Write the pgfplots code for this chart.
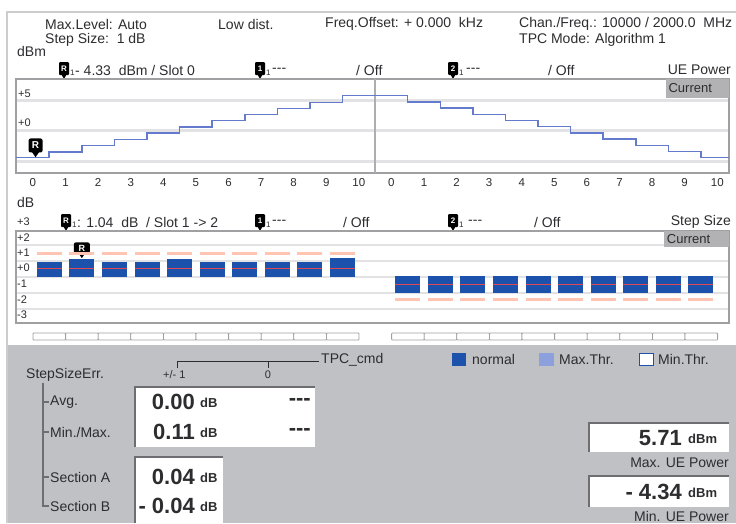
\documentclass[border=0pt]{standalone}
\usepackage{pgfplots}
\pgfplotsset{compat=1.18}
\usepackage{pgfplotstable}
\usepackage{fontspec}
\setmainfont{Liberation Sans}

\definecolor{stepline}{RGB}{100,122,205}
\definecolor{barblue}{RGB}{28,82,172}
\definecolor{redline}{RGB}{222,72,82}
\definecolor{pinkc}{RGB}{255,196,178}
\definecolor{gridgray}{RGB}{226,226,229}
\definecolor{framegray}{RGB}{160,160,163}
\definecolor{panelgray}{RGB}{192,193,197}
\definecolor{curgray}{RGB}{178,178,181}
\definecolor{outergray}{RGB}{205,205,208}
\definecolor{txt}{RGB}{45,45,48}
\definecolor{maxthr}{RGB}{140,160,222}
\definecolor{boxedge}{RGB}{110,110,114}

\newcommand{\fa}{\fontsize{14}{14}\selectfont}
\newcommand{\fb}{\fontsize{14}{14}\selectfont}
\newcommand{\fs}{\fontsize{11}{11}\selectfont}
\newcommand{\ft}{\fontsize{11.5}{11.5}\selectfont}
\newcommand{\fc}{\fontsize{13}{13}\selectfont}
\newcommand{\fbig}{\fontsize{22}{22}\selectfont\bfseries}
\newcommand{\funit}{\fontsize{13}{13}\selectfont\bfseries}
\newcommand{\dashes}{{-}{-}{-}}

% header marker icon: x, y, letter
\newcommand{\icon}[3]{%
  \fill[black,rounded corners=1pt] (#1-5,#2-8) rectangle (#1+5,#2+5);
  \fill[black] (#1-2.5,#2+4.5) -- (#1+2.5,#2+4.5) -- (#1,#2+9) -- cycle;
  \node[text=white,font=\fontsize{8}{8}\selectfont\bfseries] at (#1,#2-1.5) {#3};
  \node[font=\fontsize{8}{8}\selectfont,anchor=west] at (#1+6,#2+3) {1};}

\pgfplotstableread{
x y
-0.52 -4.34
0 -4.34
1 -3.38
2 -2.34
3 -1.37
4 -0.37
5 0.67
6 1.65
7 2.65
8 3.64
9 4.62
10 5.71
11 5.71
12 4.70
13 3.69
14 2.69
15 1.68
16 0.68
17 -0.33
18 -1.33
19 -2.34
20 -3.34
21 -4.34
21.36 -4.34
}\powertab

\pgfplotstableread{
x red up dn pink
0.5 0.05 0.40 0.55 1.0
1.5 0.05 0.60 0.55 1.0
2.5 0.05 0.40 0.55 1.0
3.5 0.05 0.40 0.55 1.0
4.5 0.05 0.60 0.55 1.0
5.5 0.05 0.40 0.55 1.0
6.5 0.05 0.40 0.55 1.0
7.5 0.05 0.40 0.55 1.0
8.5 0.05 0.40 0.55 1.0
9.5 0.05 0.62 0.55 1.0
11.5 -0.96 0.54 0.52 -1.9
12.5 -0.96 0.54 0.52 -1.9
13.5 -0.96 0.54 0.52 -1.9
14.5 -0.96 0.54 0.52 -1.9
15.5 -0.96 0.54 0.52 -1.9
16.5 -0.96 0.54 0.52 -1.9
17.5 -0.96 0.54 0.52 -1.9
18.5 -0.96 0.54 0.52 -1.9
19.5 -0.96 0.54 0.52 -1.9
20.5 -0.96 0.54 0.52 -1.9
}\steptab

\begin{document}
\begin{tikzpicture}
\useasboundingbox (0pt,0pt) rectangle (736pt,-523pt);
\begin{scope}[x=1pt,y=-1pt,every node/.style={text=txt,inner sep=0pt}]
  \fill[white] (0,0) rectangle (736,523);
  \fill[panelgray] (7,345) rectangle (736,523);
  \draw[outergray,line width=1.5pt] (7,523) -- (7,12) -- (736,12);
  % header info
  \node[anchor=west,font=\fa] at (45,24) {Max.Level: Auto};
  \node[anchor=west,font=\fa] at (45,40) {Step Size:\ \ 1 dB};
  \node[anchor=west,font=\fa] at (218,24) {Low dist.};
  \node[anchor=west,font=\fa] at (325,24) {Freq.Offset: + 0.000\ \ kHz};
  \node[anchor=west,font=\fa] at (519,24) {Chan./Freq.: 10000 / 2000.0\ \ MHz};
  \node[anchor=west,font=\fa] at (519,40) {TPC Mode: Algorithm 1};
  \node[anchor=west,font=\fa] at (17,51) {dBm};
  % marker line of upper plot
  \icon{64}{70}{R}
  \node[anchor=west,font=\fa] at (75,70) {- 4.33\ \ dBm / Slot 0};
  \icon{260}{70}{1}
  \node[anchor=west,font=\fa] at (272,70) {\dashes};
  \node[anchor=west,font=\fa] at (356,70) {/ Off};
  \icon{453}{70}{2}
  \node[anchor=west,font=\fa] at (466,70) {\dashes};
  \node[anchor=west,font=\fa] at (548,70) {/ Off};
  \node[anchor=east,font=\fa] at (731,70) {UE Power};
  % upper plot side labels
  \node[anchor=west,font=\fs] at (18,94) {+5};
  \node[anchor=west,font=\fs] at (18,123) {+0};
  % lower plot header
  \node[anchor=west,font=\fa] at (17,202) {dB};
  \node[anchor=west,font=\fs] at (17,222) {+3};
  \icon{66}{222}{R}
  \node[anchor=west,font=\fa] at (77,222) {: 1.04\ \ dB\ \ / Slot 1 -> 2};
  \icon{260}{222}{1}
  \node[anchor=west,font=\fa] at (272,222) {\dashes};
  \node[anchor=west,font=\fa] at (343,222) {/ Off};
  \icon{453}{222}{2}
  \node[anchor=west,font=\fa] at (468,222) {\dashes};
  \node[anchor=west,font=\fa] at (534,222) {/ Off};
  \node[anchor=east,font=\fa] at (731,222) {Step Size};
  \foreach \v/\yy in {+2/238,+1/253,+0/268,-1/284,-2/300,-3/315}
    \node[anchor=west,font=\fs] at (17,\yy) {\v};
  % slot cells under the lower plot
  \foreach \s in {0,...,9} {
    \draw[framegray,line width=0.8pt,fill=white,rounded corners=0.8pt]
      (33+32.6*\s,333) rectangle (33+32.6*\s+32.6,340);
    \draw[framegray,line width=0.8pt,fill=white,rounded corners=0.8pt]
      (391.6+32.6*\s,333) rectangle (391.6+32.6*\s+32.6,340);
  }
  % bottom panel
  \draw[txt,line width=0.8pt] (177,368) -- (177,361) -- (319,361);
  \draw[txt,line width=0.8pt] (268,361) -- (268,368);
  \node[anchor=west,font=\fb] at (321,360) {TPC\_cmd};
  \node[anchor=west,font=\fs] at (163,375) {+/- 1};
  \node[font=\fs] at (268,375) {0};
  \node[anchor=west,font=\fb] at (26,375) {StepSizeErr.};
  \draw[boxedge,line width=1.3pt] (43,383) -- (43,506) -- (49,506);
  \foreach \yy in {402,432,477} \draw[boxedge,line width=1.3pt] (43,\yy) -- (49,\yy);
  \node[anchor=west,font=\fb] at (50,402) {Avg.};
  \node[anchor=west,font=\fb] at (50,432) {Min./Max.};
  \node[anchor=west,font=\fb] at (50,477) {Section A};
  \node[anchor=west,font=\fb] at (50,506) {Section B};
  % value boxes
  \fill[white] (135,387) rectangle (315,447);
  \draw[boxedge,line width=1.2pt] (135,447) -- (135,387) -- (315,387);
  \node[anchor=east,font=\fbig] at (195,402) {0.00};
  \node[anchor=west,font=\funit] at (200,403) {dB};
  \node[anchor=east,font=\fbig] at (311,402) {\dashes};
  \node[anchor=east,font=\fbig] at (195,432) {0.11};
  \node[anchor=west,font=\funit] at (200,433) {dB};
  \node[anchor=east,font=\fbig] at (311,432) {\dashes};
  \fill[white] (135,457) rectangle (223,523);
  \draw[boxedge,line width=1.2pt] (135,523) -- (135,457) -- (223,457);
  \node[anchor=east,font=\fbig] at (195,477) {0.04};
  \node[anchor=west,font=\funit] at (200,478) {dB};
  \node[anchor=east,font=\fbig] at (195,506) {- 0.04};
  \node[anchor=west,font=\funit] at (200,507) {dB};
  % legend
  \fill[barblue] (452,353) rectangle (466,366);
  \node[anchor=west,font=\fb] at (472,359.5) {normal};
  \fill[maxthr] (539,353) rectangle (554,366);
  \node[anchor=west,font=\fb] at (559,359.5) {Max.Thr.};
  \draw[barblue,fill=white,line width=1pt] (639.5,353.5) rectangle (653,365.5);
  \node[anchor=west,font=\fb] at (658,359.5) {Min.Thr.};
  % UE power boxes
  \fill[white] (589,423) rectangle (729,452);
  \draw[boxedge,line width=1.2pt] (589,452) -- (589,423) -- (729,423);
  \node[anchor=east,font=\fbig] at (682,438) {5.71};
  \node[anchor=west,font=\funit] at (688,439) {dBm};
  \node[anchor=east,font=\fb] at (729,463) {Max. UE Power};
  \fill[white] (589,476) rectangle (729,507);
  \draw[boxedge,line width=1.2pt] (589,507) -- (589,476) -- (729,476);
  \node[anchor=east,font=\fbig] at (682,492) {- 4.34};
  \node[anchor=west,font=\funit] at (688,493) {dBm};
  \node[anchor=east,font=\fb] at (729,516) {Min. UE Power};
\end{scope}

% ---------------- upper plot: UE power ----------------
\begin{axis}[
  at={(16pt,-79pt)}, anchor=north west, scale only axis,
  width=713pt, height=94pt,
  xmin=-0.52, xmax=21.36, ymin=-6.82, ymax=8.41,
  axis line style={draw=framegray, line width=1.5pt},
  xtick={0,...,21},
  xticklabels={0,1,2,3,4,5,6,7,8,9,10,0,1,2,3,4,5,6,7,8,9,10},
  xticklabel style={font=\ft, text=txt, inner sep=0pt, yshift=-5pt},
  ytick={-5,0,5}, yticklabels={},
  ymajorgrids, major grid style={draw=gridgray, line width=3pt},
  tick style={draw=none},
  /pgf/number format/assume math mode=true,
]
\draw[framegray!85, line width=1.5pt] (axis cs:10.5,-6.82) -- (axis cs:10.5,8.41);
\fill[curgray] (axis cs:19.44,8.41) rectangle (axis cs:21.36,5.38);
\node[anchor=west, font=\fc, text=txt, inner sep=0pt] at (axis cs:19.5,6.9) {Current};
\addplot[const plot mark mid, stepline, line width=1.5pt] table[x=x,y=y] {\powertab};
\node[fill=black, text=white, rounded corners=2pt, minimum width=14pt,
      minimum height=14pt, inner sep=0pt, font=\fontsize{10}{10}\selectfont\bfseries,
      anchor=south, yshift=5pt] (m1) at (axis cs:0.08,-4.34) {R};
\fill[black] ([xshift=-3.5pt,yshift=0.5pt]m1.south) -- ([xshift=3.5pt,yshift=0.5pt]m1.south)
   -- ([yshift=-4.5pt]m1.south) -- cycle;
\end{axis}

% ---------------- lower plot: step size ----------------
\begin{axis}[
  at={(16pt,-231pt)}, anchor=north west, scale only axis,
  width=713pt, height=92pt,
  xmin=-0.52, xmax=21.36, ymin=-3.375, ymax=2.375,
  axis line style={draw=framegray, line width=1.5pt},
  xtick=\empty,
  ytick={-2.5,-1.5,-0.5,0.5,1.5}, yticklabels={},
  ymajorgrids, major grid style={draw=gridgray, line width=2.5pt},
  tick style={draw=none},
]
\fill[curgray] (axis cs:19.38,2.375) rectangle (axis cs:21.36,1.375);
\node[anchor=west, font=\fc, text=txt, inner sep=0pt] at (axis cs:19.45,1.87) {Current};
\addplot[barblue, only marks, mark=none,
  error bars/.cd, y dir=both, y explicit, error mark=none,
  error bar style={line width=25pt, draw=barblue}]
  table[x=x, y=red, y error plus=up, y error minus=dn] {\steptab};
\addplot[pinkc, only marks, mark=-, mark size=12.5pt,
  mark options={color=pinkc, line width=3pt}] table[x=x,y=pink] {\steptab};
\addplot[redline, only marks, mark=-, mark size=12.5pt,
  mark options={color=redline, line width=1.2pt}] table[x=x,y=red] {\steptab};
\node[fill=black, text=white, rounded corners=2pt, minimum width=16pt,
      minimum height=11pt, inner sep=0pt, font=\fontsize{9}{9}\selectfont\bfseries,
      anchor=south, yshift=5pt] (m2) at (axis cs:1.5,0.65) {R};
\fill[black] ([xshift=-3.5pt,yshift=0.5pt]m2.south) -- ([xshift=3.5pt,yshift=0.5pt]m2.south)
   -- ([yshift=-4.5pt]m2.south) -- cycle;
\end{axis}
\end{tikzpicture}
\end{document}
